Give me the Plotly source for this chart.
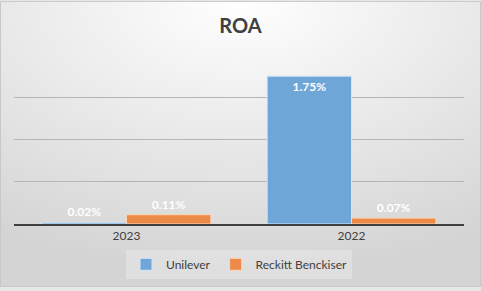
import base64
import plotly.graph_objects as go

categories = ["2023", "2022"]
unilever = [0.02, 1.75]
reckitt = [0.11, 0.07]
series_names = ["Unilever", "Reckitt Benckiser"]
chart_title = "ROA"

W, H = 481, 291
ml, mr, mt, mb = 14, 17, 55, 64
pw = W - ml - mr
ph = H - mt - mb

svg = f'''<svg xmlns="http://www.w3.org/2000/svg" width="{W}" height="{H}">
<defs><radialGradient id="g" cx="50%" cy="0%" r="95%" fx="50%" fy="0%" gradientUnits="objectBoundingBox">
<stop offset="0%" stop-color="#ffffff"/><stop offset="100%" stop-color="#d4d4d4"/></radialGradient></defs>
<rect width="{W}" height="{H}" fill="url(#g)"/></svg>'''
src = "data:image/svg+xml;base64," + base64.b64encode(svg.encode()).decode()

def labels(vals):
    return [f"{v:.2f}%" for v in vals]

def positions(vals):
    return ["inside" if v > 0.5 else "outside" for v in vals]

fig = go.Figure()
fig.add_trace(go.Bar(
    x=categories, y=unilever, name=series_names[0],
    marker=dict(color="#6fa6d8", line=dict(color="#d6e6f5", width=1)),
    text=labels(unilever), textposition=positions(unilever),
    insidetextanchor="end", cliponaxis=False,
    textfont=dict(color="white", size=12, family="Lato", weight="bold"),
))
fig.add_trace(go.Bar(
    x=categories, y=reckitt, name=series_names[1],
    marker=dict(color="#ee8a48", line=dict(color="#f9d6bd", width=1)),
    text=labels(reckitt), textposition=positions(reckitt),
    insidetextanchor="end", cliponaxis=False,
    textfont=dict(color="white", size=12, family="Lato", weight="bold"),
))

fig.update_layout(
    width=W, height=H,
    margin=dict(l=ml, r=mr, t=mt, b=mb),
    paper_bgcolor="#e8e8e8",
    plot_bgcolor="rgba(0,0,0,0)",
    barmode="group", bargap=0.25, bargroupgap=0,
    font=dict(family="Lato", color="#404040"),
    title=dict(text=chart_title, x=0.5, xanchor="center", y=1 - 26 / H, yanchor="middle",
               font=dict(size=20, color="#404040", family="Lato", weight="bold")),
    uniformtext=dict(minsize=8, mode="show"),
    showlegend=True,
    legend=dict(orientation="h", x=0.5, xanchor="center", y=-(268 - mt - ph) / ph, yanchor="middle",
                bgcolor="rgba(255,255,255,0.25)", font=dict(size=12, color="#404040"),
                itemwidth=30, traceorder="normal"),
    images=[dict(source=src, xref="paper", yref="paper",
                 x=-ml / pw, y=1 + mt / ph, sizex=W / pw, sizey=H / ph,
                 xanchor="left", yanchor="top", sizing="stretch", layer="below")],
    shapes=[dict(type="rect", xref="paper", yref="paper",
                 x0=-ml / pw + 0.5 / pw, x1=1 + mr / pw - 0.5 / pw,
                 y0=-mb / ph + 0.5 / ph, y1=1 + mt / ph - 0.5 / ph,
                 line=dict(color="#c8c8c8", width=1), layer="above")],
)
fig.update_xaxes(showline=True, linecolor="#404040", linewidth=2, ticks="",
                 tickfont=dict(size=12, color="#404040"), showgrid=False)
fig.update_yaxes(range=[0, 2.0], dtick=0.5, showticklabels=False, showgrid=True,
                 gridcolor="#b5b5b5", gridwidth=1, zeroline=False, showline=False)

fig.write_html("out.html")
